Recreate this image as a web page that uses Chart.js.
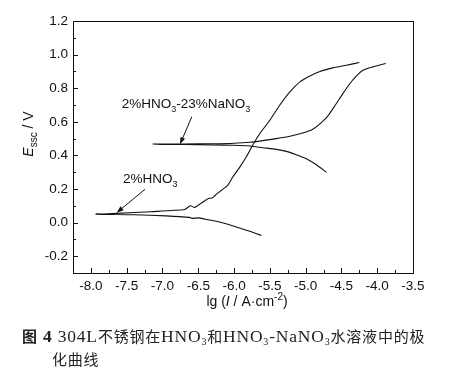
<!DOCTYPE html>
<html>
<head>
<meta charset="utf-8">
<script src="https://cdn.jsdelivr.net/npm/chart.js@4.4.1/dist/chart.umd.min.js"></script>
<style>
  html, body { margin: 0; padding: 0; background: #fff; }
  #wrap { position: relative; width: 449px; height: 372px; }
  #chart { position: absolute; left: 0; top: 0; }
  .cap {
    position: absolute;
    font-family: "Liberation Serif", "Noto Sans CJK SC", serif;
    font-size: 17.5px;
    line-height: 17px;
    letter-spacing: 0.8px;
    color: #222;
    white-space: nowrap;
  }
  .cap .zh { font-family: "Noto Sans CJK SC", sans-serif; font-size: 15px; }
  .cap sub { font-size: 10px; vertical-align: -3px; line-height: 0; }
  .cap b { font-weight: bold; }
</style>
</head>
<body>
<div id="wrap">
  <canvas id="chart" width="449" height="372"></canvas>
  <div class="cap" style="left:22px; top:327px;"><b><span class="zh">图</span> 4</b> 304L<span class="zh">不锈钢在</span>HNO<sub>3</sub><span class="zh">和</span>HNO<sub>3</sub>-NaNO<sub>3</sub><span class="zh">水溶液中的极</span></div>
  <div class="cap" style="left:52px; top:350px;"><span class="zh">化曲线</span></div>
</div>
<script>
// 2% HNO3: cathodic branch (right -> left), then anodic branch (left -> right)
const hno3LogI = [
    -5.62, -5.75, -5.85, -6.00, -6.10, -6.25, -6.40, -6.50, -6.58, -6.62, -6.95, -7.40, -7.93,
    -7.63, -7.16, -6.69, -6.61, -6.55, -6.46, -6.37, -6.30, -6.27, -6.22, -6.18, -6.09, -6.02,
    -5.92, -5.83, -5.74, -5.64, -5.50, -5.36, -5.22, -5.08, -4.94, -4.80, -4.62, -4.43, -4.25
];
const hno3E = [
    -0.076, -0.056, -0.042, -0.022, -0.008, 0.008, 0.020, 0.028, 0.025, 0.031, 0.040, 0.047, 0.050,
    0.055, 0.065, 0.078, 0.100, 0.090, 0.115, 0.141, 0.148, 0.160, 0.178, 0.191, 0.221, 0.270,
    0.330, 0.390, 0.460, 0.530, 0.609, 0.700, 0.778, 0.838, 0.873, 0.900, 0.921, 0.937, 0.953
];

// 2% HNO3 - 23% NaNO3
const naLogI = [
    -4.71, -4.85, -4.99, -5.13, -5.27, -5.41, -5.60, -5.78, -6.00, -6.30, -6.70, -7.13,
    -6.70, -6.30, -6.00, -5.78, -5.60, -5.41, -5.22, -5.04, -4.90, -4.78, -4.68, -4.58,
    -4.48, -4.38, -4.29, -4.20, -4.06, -3.88
];
const naE = [
    0.300, 0.344, 0.380, 0.404, 0.424, 0.436, 0.446, 0.456, 0.460, 0.462, 0.465, 0.467,
    0.468, 0.469, 0.472, 0.478, 0.488, 0.500, 0.514, 0.533, 0.556, 0.595, 0.640, 0.703,
    0.768, 0.828, 0.873, 0.907, 0.927, 0.947
];

const xTicks = [-8.0, -7.5, -7.0, -6.5, -6.0, -5.5, -5.0, -4.5, -4.0, -3.5];
const yTicks = [-0.2, 0.0, 0.2, 0.4, 0.6, 0.8, 1.0, 1.2];

// curve labels with arrows, in data units
const notes = [
    { runs: [['2%HNO'], ['3', 'sub'], ['-23%NaNO'], ['3', 'sub']], at: [-7.57, 0.682], from: [-6.59, 0.63], to: [-6.755, 0.466] },
    { runs: [['2%HNO'], ['3', 'sub']], at: [-7.55, 0.236], from: [-7.244, 0.198], to: [-7.64, 0.059] }
];

const FONT = '"Liberation Sans", Arial, sans-serif';
const INK = '#111';

const toPoints = (xs, ys) => xs.map((x, i) => ({ x, y: ys[i] }));

function runFont(kind, size) {
    const small = kind === 'sub' || kind === 'sup';
    const fs = small ? Math.round(size * 0.68) : size;
    return `${kind === 'it' ? 'italic ' : ''}${fs}px ${FONT}`;
}

function runsWidth(ctx, runs, size) {
    let w = 0;
    for (const [t, kind] of runs) {
        ctx.font = runFont(kind, size);
        w += ctx.measureText(t).width;
    }
    return w;
}

function drawRuns(ctx, runs, x, y, size) {
    let cx = x;
    for (const [t, kind] of runs) {
        ctx.font = runFont(kind, size);
        const dy = kind === 'sub' ? size * 0.3 : kind === 'sup' ? -size * 0.42 : 0;
        ctx.fillText(t, cx, y + dy);
        cx += ctx.measureText(t).width;
    }
}

// frame, inward ticks, tick labels, axis titles and the two arrow labels
const decorations = {
    id: 'decorations',
    afterDraw(chart) {
        const { ctx, scales: { x, y } } = chart;
        const L = Math.round(x.left), R = Math.round(x.right), T = Math.round(y.top), B = Math.round(y.bottom);
        ctx.save();
        ctx.fillStyle = INK;

        ctx.fillRect(L, T, R - L, 1);
        ctx.fillRect(L, B, R - L + 1, 1);
        ctx.fillRect(L, T, 1, B - T);
        ctx.fillRect(R, T, 1, B - T);

        for (const v of xTicks) {
            const px = Math.round(x.getPixelForValue(v));
            ctx.fillRect(px, B - 5, 1, 5);
            const m = Math.round(x.getPixelForValue(v - 0.25));
            if (m > L + 2) ctx.fillRect(m, B - 3, 1, 3);
        }
        for (const v of yTicks) {
            const py = Math.round(y.getPixelForValue(v));
            ctx.fillRect(L, py, 5, 1);
            const m = Math.round(y.getPixelForValue(v - 0.1));
            if (m < B - 2) ctx.fillRect(L, m, 3, 1);
        }

        ctx.font = `13.5px ${FONT}`;
        ctx.textAlign = 'center';
        ctx.textBaseline = 'alphabetic';
        for (const v of xTicks) ctx.fillText(v.toFixed(1), x.getPixelForValue(v), B + 17);
        ctx.textAlign = 'right';
        ctx.textBaseline = 'middle';
        for (const v of yTicks) ctx.fillText(v.toFixed(1), L - 5, y.getPixelForValue(v));

        ctx.textBaseline = 'alphabetic';
        ctx.textAlign = 'left';
        const xt = [['lg ('], ['I', 'it'], [' / A·cm'], ['-2', 'sup'], [')']];
        const xw = runsWidth(ctx, xt, 14);
        drawRuns(ctx, xt, (L + R) / 2 + 4 - xw / 2, 306, 14);

        const yt = [['E', 'it'], ['ssc', 'sub'], [' / V']];
        const yw = runsWidth(ctx, yt, 14);
        ctx.save();
        ctx.translate(33, 134);
        ctx.rotate(-Math.PI / 2);
        drawRuns(ctx, yt, -yw / 2, 0, 14);
        ctx.restore();

        ctx.strokeStyle = INK;
        ctx.lineWidth = 1;
        for (const n of notes) {
            drawRuns(ctx, n.runs, x.getPixelForValue(n.at[0]), y.getPixelForValue(n.at[1]), 13.5);
            const x0 = x.getPixelForValue(n.from[0]), y0 = y.getPixelForValue(n.from[1]);
            const x1 = x.getPixelForValue(n.to[0]), y1 = y.getPixelForValue(n.to[1]);
            const ang = Math.atan2(y1 - y0, x1 - x0);
            const c = Math.cos(ang), s = Math.sin(ang);
            ctx.beginPath();
            ctx.moveTo(x0, y0);
            ctx.lineTo(x1 - 5 * c, y1 - 5 * s);
            ctx.stroke();
            ctx.beginPath();
            ctx.moveTo(x1, y1);
            ctx.lineTo(x1 - 7 * c + 2.5 * s, y1 - 7 * s - 2.5 * c);
            ctx.lineTo(x1 - 7 * c - 2.5 * s, y1 - 7 * s + 2.5 * c);
            ctx.closePath();
            ctx.fill();
        }
        ctx.restore();
    }
};

const lineStyle = {
    showLine: true,
    pointRadius: 0,
    borderColor: INK,
    borderWidth: 1.1,
    tension: 0.2,
    fill: false
};

new Chart(document.getElementById('chart'), {
    type: 'scatter',
    data: {
        datasets: [
            { label: '2%HNO3', data: toPoints(hno3LogI, hno3E), ...lineStyle },
            { label: '2%HNO3-23%NaNO3', data: toPoints(naLogI, naE), ...lineStyle }
        ]
    },
    options: {
        responsive: false,
        animation: false,
        layout: { padding: { left: 0, top: 21, right: 36, bottom: 0 } },
        plugins: { legend: { display: false }, tooltip: { enabled: false } },
        scales: {
            x: {
                type: 'linear',
                min: -8.25,
                max: -3.5,
                grid: { display: false },
                border: { display: false },
                ticks: { display: false },
                afterBuildTicks: (s) => { s.ticks = xTicks.map((value) => ({ value })); },
                afterFit: (s) => { s.height = 99; }
            },
            y: {
                type: 'linear',
                min: -0.3,
                max: 1.2,
                grid: { display: false },
                border: { display: false },
                ticks: { display: false },
                afterBuildTicks: (s) => { s.ticks = yTicks.map((value) => ({ value })); },
                afterFit: (s) => { s.width = 73; }
            }
        }
    },
    plugins: [decorations]
});
</script>
</body>
</html>
